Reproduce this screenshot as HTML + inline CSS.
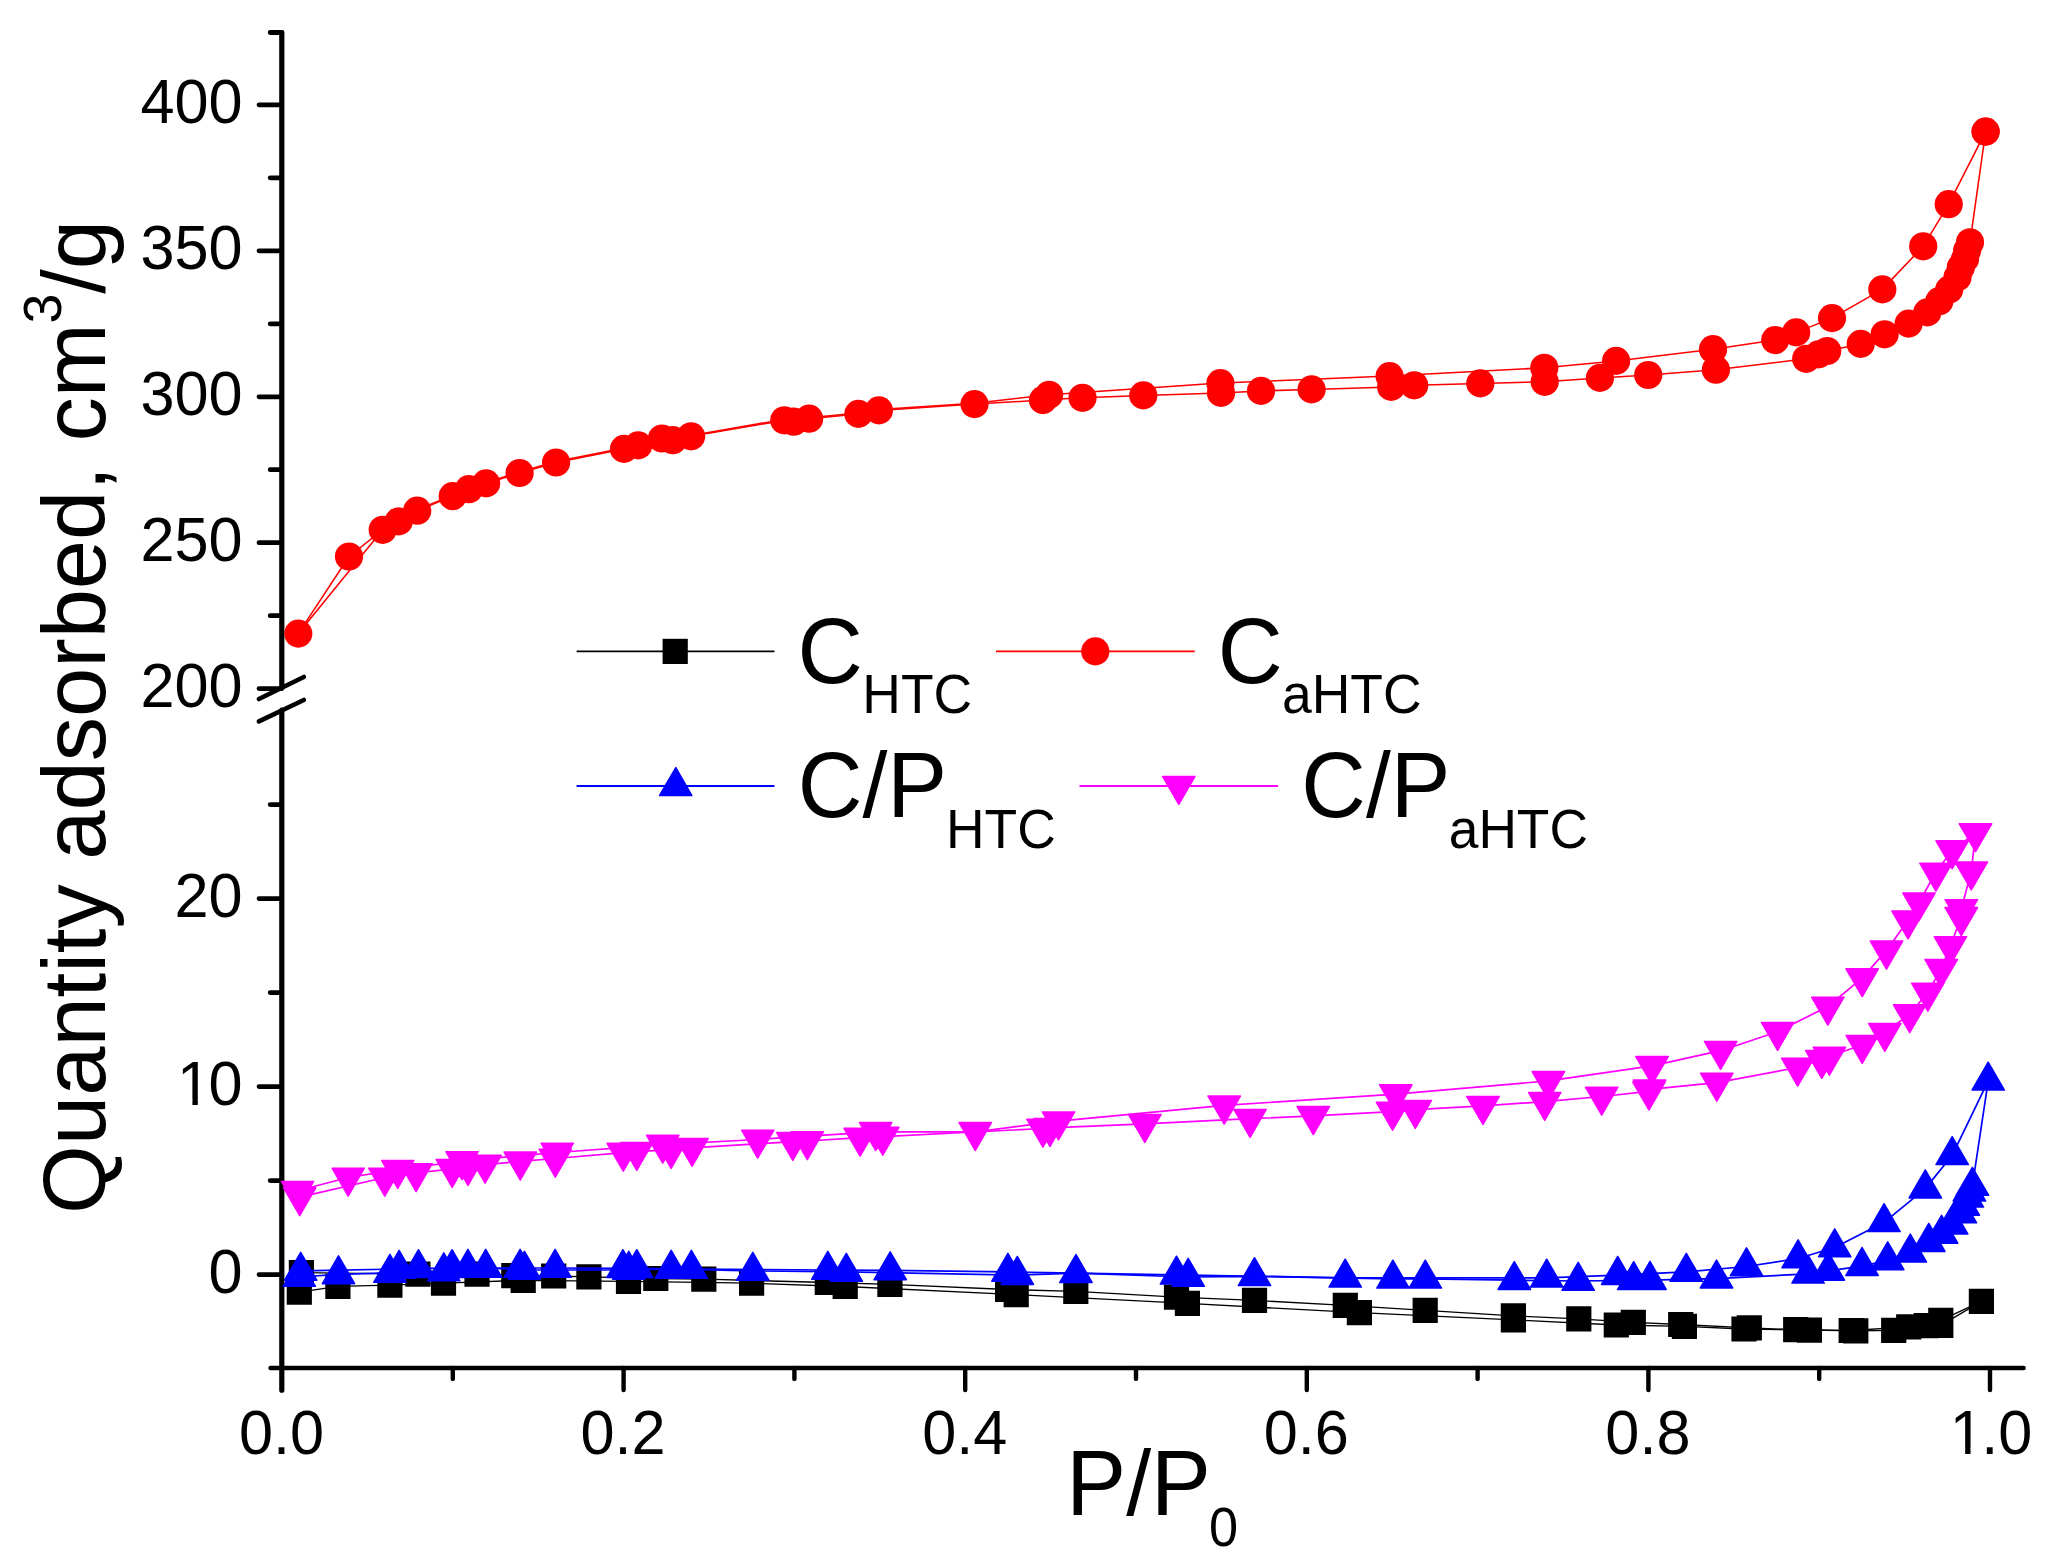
<!DOCTYPE html><html><head><meta charset="utf-8"><title>N2 adsorption isotherms</title>
<style>html,body{margin:0;padding:0;background:#fff}svg{display:block}text{font-family:"Liberation Sans",sans-serif;fill:#000}</style></head><body>
<svg width="2051" height="1568" viewBox="0 0 2051 1568">
<rect width="2051" height="1568" fill="#fff"/>
<g stroke="#000" stroke-linecap="round" fill="none">
<path stroke-width="5.2" d="M281.8 32.5V687.8M281.8 710.2V1390.2"/>
<path stroke-width="4.6" d="M270.6 1368H2023.6"/>
<path stroke-width="4.6" d="M258.9 699L303.8 677M258.9 721.4L303.8 700"/>
<path stroke-width="4.8" d="M259 688.6H281.8M259 542.7H281.8M259 396.8H281.8M259 250.8H281.8M259 104.8H281.8M270.2 615.7H281.8M270.2 469.7H281.8M270.2 323.8H281.8M270.2 177.8H281.8M270.2 32.5H281.8M259 1274.6H281.8M259 1086.6H281.8M259 898.6H281.8M270.2 1180.6H281.8M270.2 992.6H281.8M270.2 804.6H281.8"/>
<path stroke-width="4.4" d="M452.8 1368V1378.9M623.6 1368V1390M794.4 1368V1378.9M965.2 1368V1390M1136 1368V1378.9M1306.8 1368V1390M1477.6 1368V1378.9M1648.4 1368V1390M1819.2 1368V1378.9M1990 1368V1390"/>
</g>
<polyline fill="none" stroke="#000" stroke-width="1.35" stroke-linejoin="round" points="299.3,1292.1 337.9,1286.3 389.9,1285.1 443.5,1283.2 523.2,1280.3 628.5,1281.4 751.6,1283.2 845.2,1286.5 1016.2,1294.6 1187.4,1303.4 1359.4,1312.7 1513.4,1319.9 1616.3,1325 1684.4,1326.4 1744,1329 1809.4,1330.2 1855.8,1330.9 1893.7,1330.3 1926.3,1325.7 1940.8,1325.3 1981.4,1301.4"/>
<polyline fill="none" stroke="#000" stroke-width="1.35" stroke-linejoin="round" points="1981.4,1301.4 1940.8,1320.4 1908.7,1326.8 1851.2,1330.5 1795.7,1329.7 1749.3,1327.8 1680.7,1324.5 1633.3,1322.4 1578.8,1318.9 1513.4,1315.8 1425.2,1310.4 1345.3,1305.3 1254.5,1300.4 1176.5,1297.1 1075.8,1291.4 1007.6,1289.5 889.9,1284.4 827.3,1282.5 703.8,1279.1 655.8,1278.5 588.9,1276.8 553.7,1276 513.8,1275.6 477,1274.1 417.9,1274.1 301.4,1272.7"/>
<path d="M286.7 1279.5h25.2v25.2h-25.2ZM325.3 1273.7h25.2v25.2h-25.2ZM377.3 1272.5h25.2v25.2h-25.2ZM430.9 1270.6h25.2v25.2h-25.2ZM510.6 1267.7h25.2v25.2h-25.2ZM615.9 1268.8h25.2v25.2h-25.2ZM739 1270.6h25.2v25.2h-25.2ZM832.6 1273.9h25.2v25.2h-25.2ZM1003.6 1282h25.2v25.2h-25.2ZM1174.8 1290.8h25.2v25.2h-25.2ZM1346.8 1300.1h25.2v25.2h-25.2ZM1500.8 1307.3h25.2v25.2h-25.2ZM1603.7 1312.4h25.2v25.2h-25.2ZM1671.8 1313.8h25.2v25.2h-25.2ZM1731.4 1316.4h25.2v25.2h-25.2ZM1796.8 1317.6h25.2v25.2h-25.2ZM1843.2 1318.3h25.2v25.2h-25.2ZM1881.1 1317.7h25.2v25.2h-25.2ZM1913.7 1313.1h25.2v25.2h-25.2ZM1928.2 1312.7h25.2v25.2h-25.2ZM1968.8 1288.8h25.2v25.2h-25.2ZM1968.8 1288.8h25.2v25.2h-25.2ZM1928.2 1307.8h25.2v25.2h-25.2ZM1896.1 1314.2h25.2v25.2h-25.2ZM1838.6 1317.9h25.2v25.2h-25.2ZM1783.1 1317.1h25.2v25.2h-25.2ZM1736.7 1315.2h25.2v25.2h-25.2ZM1668.1 1311.9h25.2v25.2h-25.2ZM1620.7 1309.8h25.2v25.2h-25.2ZM1566.2 1306.3h25.2v25.2h-25.2ZM1500.8 1303.2h25.2v25.2h-25.2ZM1412.6 1297.8h25.2v25.2h-25.2ZM1332.7 1292.7h25.2v25.2h-25.2ZM1241.9 1287.8h25.2v25.2h-25.2ZM1163.9 1284.5h25.2v25.2h-25.2ZM1063.2 1278.8h25.2v25.2h-25.2ZM995 1276.9h25.2v25.2h-25.2ZM877.3 1271.8h25.2v25.2h-25.2ZM814.7 1269.9h25.2v25.2h-25.2ZM691.2 1266.5h25.2v25.2h-25.2ZM643.2 1265.9h25.2v25.2h-25.2ZM576.3 1264.2h25.2v25.2h-25.2ZM541.1 1263.4h25.2v25.2h-25.2ZM501.2 1263h25.2v25.2h-25.2ZM464.4 1261.5h25.2v25.2h-25.2ZM405.3 1261.5h25.2v25.2h-25.2ZM288.8 1260.1h25.2v25.2h-25.2Z" fill="#000"/>
<polyline fill="none" stroke="#f00" stroke-width="1.55" stroke-linejoin="round" points="298.3,633.6 349,556.5 382.7,529.8 398.7,521.4 417.2,510.7 452.7,496.1 468.9,489.2 486.1,483.4 519.6,473 556.1,462.5 624,448.9 638.2,445.4 662,438.5 691.1,436.3 784.3,420.3 809.1,418.7 858.4,413.9 878.9,410.4 974.5,404.1 1042.9,400.1 1082.5,397.8 1143.3,395.4 1221,392.9 1261,390.9 1311.6,389.4 1391.2,386.9 1414.2,385.3 1480.3,383.4 1544.7,381.8 1599.9,377.9 1648.2,375 1715.9,369.7 1806.2,358.8 1818.6,354.4 1827.2,351 1860.7,343.9 1884.6,334.3 1908.6,323.6 1927.3,312.4 1939.3,301.2 1949.2,289.6 1957.5,277.2 1960.8,267.2 1965,258.9 1967.1,250.6 1970,242.3 1985.6,131.6"/>
<polyline fill="none" stroke="#f00" stroke-width="1.55" stroke-linejoin="round" points="1985.6,131.6 1948.7,204.2 1923.2,246.3 1882.3,289.4 1832,318.1 1796.2,332.4 1775.2,340.1 1713,349.2 1616.1,360.9 1544.3,367.8 1389.6,376.1 1220.4,383.1 1049.1,394.8 974.5,403.2 878.9,409.5 858.4,413 809.1,417.8 793.7,420.8 784.3,419.4 691.1,435.4 672.8,439.3 662,437.6 638.2,444.5 624,448 556.1,461.6 519.6,472.1 486.1,482.5 468.9,488.3 452.7,495.2 417.2,509.8 398.7,520.5 382.7,528.9 382.7,529.8 298.3,633.6"/>
<g fill="#f00"><circle cx="298.3" cy="633.6" r="14.1"/><circle cx="349" cy="556.5" r="14.1"/><circle cx="382.7" cy="529.8" r="14.1"/><circle cx="398.7" cy="521.4" r="14.1"/><circle cx="417.2" cy="510.7" r="14.1"/><circle cx="452.7" cy="496.1" r="14.1"/><circle cx="468.9" cy="489.2" r="14.1"/><circle cx="486.1" cy="483.4" r="14.1"/><circle cx="519.6" cy="473" r="14.1"/><circle cx="556.1" cy="462.5" r="14.1"/><circle cx="624" cy="448.9" r="14.1"/><circle cx="638.2" cy="445.4" r="14.1"/><circle cx="662" cy="438.5" r="14.1"/><circle cx="691.1" cy="436.3" r="14.1"/><circle cx="784.3" cy="420.3" r="14.1"/><circle cx="809.1" cy="418.7" r="14.1"/><circle cx="858.4" cy="413.9" r="14.1"/><circle cx="878.9" cy="410.4" r="14.1"/><circle cx="974.5" cy="404.1" r="14.1"/><circle cx="1042.9" cy="400.1" r="14.1"/><circle cx="1082.5" cy="397.8" r="14.1"/><circle cx="1143.3" cy="395.4" r="14.1"/><circle cx="1221" cy="392.9" r="14.1"/><circle cx="1261" cy="390.9" r="14.1"/><circle cx="1311.6" cy="389.4" r="14.1"/><circle cx="1391.2" cy="386.9" r="14.1"/><circle cx="1414.2" cy="385.3" r="14.1"/><circle cx="1480.3" cy="383.4" r="14.1"/><circle cx="1544.7" cy="381.8" r="14.1"/><circle cx="1599.9" cy="377.9" r="14.1"/><circle cx="1648.2" cy="375" r="14.1"/><circle cx="1715.9" cy="369.7" r="14.1"/><circle cx="1806.2" cy="358.8" r="14.1"/><circle cx="1818.6" cy="354.4" r="14.1"/><circle cx="1827.2" cy="351" r="14.1"/><circle cx="1860.7" cy="343.9" r="14.1"/><circle cx="1884.6" cy="334.3" r="14.1"/><circle cx="1908.6" cy="323.6" r="14.1"/><circle cx="1927.3" cy="312.4" r="14.1"/><circle cx="1939.3" cy="301.2" r="14.1"/><circle cx="1949.2" cy="289.6" r="14.1"/><circle cx="1957.5" cy="277.2" r="14.1"/><circle cx="1960.8" cy="267.2" r="14.1"/><circle cx="1965" cy="258.9" r="14.1"/><circle cx="1967.1" cy="250.6" r="14.1"/><circle cx="1970" cy="242.3" r="14.1"/><circle cx="1985.6" cy="131.6" r="14.1"/><circle cx="1985.6" cy="131.6" r="14.1"/><circle cx="1948.7" cy="204.2" r="14.1"/><circle cx="1923.2" cy="246.3" r="14.1"/><circle cx="1882.3" cy="289.4" r="14.1"/><circle cx="1832" cy="318.1" r="14.1"/><circle cx="1796.2" cy="332.4" r="14.1"/><circle cx="1775.2" cy="340.1" r="14.1"/><circle cx="1713" cy="349.2" r="14.1"/><circle cx="1616.1" cy="360.9" r="14.1"/><circle cx="1544.3" cy="367.8" r="14.1"/><circle cx="1389.6" cy="376.1" r="14.1"/><circle cx="1220.4" cy="383.1" r="14.1"/><circle cx="1049.1" cy="394.8" r="14.1"/><circle cx="793.7" cy="421.7" r="14.1"/><circle cx="672.8" cy="440.2" r="14.1"/></g>
<polyline fill="none" stroke="#00f" stroke-width="1.7" stroke-linejoin="round" points="299.3,1277 338.5,1274.4 389.9,1272.9 443.8,1271.5 485.7,1268 524.5,1270 628.8,1270 671.2,1269 752.8,1270.9 846.3,1271.9 1017.3,1275.1 1075.9,1273.1 1188.2,1277 1254.5,1276.3 1392.9,1278.8 1425.3,1278.8 1514.3,1280.2 1578.2,1281 1633.7,1280.3 1650,1280.1 1716.5,1278.7 1808.1,1273.8 1828.3,1270.9 1862.1,1266.1 1887.7,1260.4 1910.3,1252.7 1928.8,1242.1 1941.6,1233.9 1951.6,1224.7 1960.4,1213.5 1963.3,1205.9 1967.3,1197.8 1969.4,1191.7 1972.4,1185.9 1988.2,1080.8"/>
<polyline fill="none" stroke="#00f" stroke-width="1.7" stroke-linejoin="round" points="1988.2,1080.8 1952.2,1155.3 1925.3,1188.6 1884.1,1222.3 1834.7,1247.5 1798.1,1258.5 1746.5,1266.5 1686.3,1271.9 1617.7,1275.1 1546.7,1277.8 1345.2,1277.8 1176.5,1274.8 1007.9,1271.9 890.2,1270.4 827.8,1270 691.4,1269 636.8,1268.3 622.9,1268.3 555.1,1268 520.1,1268 467.9,1268 452.1,1268.3 418.5,1268.3 399.1,1269 300.7,1270.9"/>
<path d="M299.3 1258.4L315.4 1286.3L283.2 1286.3ZM338.5 1255.8L354.6 1283.7L322.4 1283.7ZM389.9 1254.3L406 1282.2L373.8 1282.2ZM443.8 1252.9L459.9 1280.8L427.7 1280.8ZM485.7 1249.4L501.8 1277.3L469.6 1277.3ZM524.5 1251.4L540.6 1279.3L508.4 1279.3ZM628.8 1251.4L644.9 1279.3L612.6 1279.3ZM671.2 1250.4L687.4 1278.3L655.1 1278.3ZM752.8 1252.3L768.9 1280.2L736.6 1280.2ZM846.3 1253.3L862.4 1281.2L830.1 1281.2ZM1017.3 1256.5L1033.5 1284.4L1001.1 1284.4ZM1075.9 1254.5L1092.1 1282.4L1059.8 1282.4ZM1188.2 1258.4L1204.4 1286.3L1172 1286.3ZM1254.5 1257.7L1270.7 1285.6L1238.3 1285.6ZM1392.9 1260.2L1409.1 1288.1L1376.8 1288.1ZM1425.3 1260.2L1441.5 1288.1L1409.1 1288.1ZM1514.3 1261.6L1530.5 1289.5L1498.1 1289.5ZM1578.2 1262.4L1594.4 1290.3L1562 1290.3ZM1633.7 1261.7L1649.9 1289.6L1617.5 1289.6ZM1650 1261.5L1666.2 1289.4L1633.8 1289.4ZM1716.5 1260.1L1732.7 1288L1700.3 1288ZM1808.1 1255.2L1824.2 1283.1L1791.9 1283.1ZM1828.3 1252.3L1844.5 1280.2L1812.1 1280.2ZM1862.1 1247.5L1878.2 1275.4L1845.9 1275.4ZM1887.7 1241.8L1903.9 1269.7L1871.5 1269.7ZM1910.3 1234.1L1926.5 1262L1894.1 1262ZM1928.8 1223.5L1945 1251.4L1912.6 1251.4ZM1941.6 1215.3L1957.8 1243.2L1925.4 1243.2ZM1951.6 1206.1L1967.8 1234L1935.4 1234ZM1960.4 1194.9L1976.6 1222.8L1944.2 1222.8ZM1963.3 1187.3L1979.5 1215.2L1947.1 1215.2ZM1967.3 1179.2L1983.5 1207.1L1951.1 1207.1ZM1969.4 1173.1L1985.6 1201L1953.2 1201ZM1972.4 1167.3L1988.6 1195.2L1956.2 1195.2ZM1988.2 1062.2L2004.4 1090.1L1972 1090.1ZM1988.2 1062.2L2004.4 1090.1L1972 1090.1ZM1952.2 1136.7L1968.4 1164.6L1936 1164.6ZM1925.3 1170L1941.5 1197.9L1909.1 1197.9ZM1884.1 1203.7L1900.2 1231.6L1867.9 1231.6ZM1834.7 1228.9L1850.9 1256.8L1818.5 1256.8ZM1798.1 1239.9L1814.2 1267.8L1781.9 1267.8ZM1746.5 1247.9L1762.7 1275.8L1730.3 1275.8ZM1686.3 1253.3L1702.5 1281.2L1670.1 1281.2ZM1617.7 1256.5L1633.9 1284.4L1601.5 1284.4ZM1546.7 1259.2L1562.9 1287.1L1530.5 1287.1ZM1345.2 1259.2L1361.4 1287.1L1329 1287.1ZM1176.5 1256.2L1192.7 1284.1L1160.3 1284.1ZM1007.9 1253.3L1024 1281.2L991.8 1281.2ZM890.2 1251.8L906.4 1279.7L874.1 1279.7ZM827.8 1251.4L843.9 1279.3L811.6 1279.3ZM691.4 1250.4L707.5 1278.3L675.2 1278.3ZM636.8 1249.7L652.9 1277.6L620.6 1277.6ZM622.9 1249.7L639 1277.6L606.8 1277.6ZM555.1 1249.4L571.2 1277.3L539 1277.3ZM520.1 1249.4L536.2 1277.3L504 1277.3ZM467.9 1249.4L484 1277.3L451.8 1277.3ZM452.1 1249.7L468.2 1277.6L436 1277.6ZM418.5 1249.7L434.6 1277.6L402.4 1277.6ZM399.1 1250.4L415.2 1278.3L383 1278.3ZM300.7 1252.3L316.8 1280.2L284.6 1280.2Z" fill="#00f" stroke="#00f" stroke-width="1.5" stroke-linejoin="round"/>
<polyline fill="none" stroke="#f0f" stroke-width="1.7" stroke-linejoin="round" points="299.7,1197.1 384.8,1177.5 416.1,1173 452.2,1168.8 468,1166.8 485.1,1164.6 520.2,1161.4 555.3,1158.5 623.3,1152.6 636.8,1151.7 671.1,1149.7 692.1,1147.8 792.8,1141.7 807.3,1141 860.1,1137.6 882.8,1136.6 1042.9,1128.5 1050,1127.8 1144.8,1123.8 1250.1,1118.7 1313.3,1115.9 1392.6,1111.6 1415.3,1109.7 1483,1105.8 1544.7,1101.7 1601.7,1096.5 1648.9,1091.4 1649.6,1089.4 1716.8,1082.6 1797.7,1067.5 1821.8,1059.8 1829.4,1056.5 1862.2,1044.7 1884.8,1032.7 1909.7,1014.1 1927.8,992.5 1941.2,968.8 1950.4,946 1961.3,916.9 1961.3,909 1971.3,871.3 1975.5,833.1"/>
<polyline fill="none" stroke="#f0f" stroke-width="1.7" stroke-linejoin="round" points="1975.5,833.1 1952.2,850.1 1935.9,872.5 1918.9,902.3 1908.1,920.3 1886.5,950.4 1862.2,978.1 1827.8,1006.5 1777.6,1031.7 1720.6,1050.7 1652,1065.8 1548.4,1080.9 1395.8,1094.1 1224.2,1105.4 1058.5,1121.2 975.2,1131.9 875.6,1131.9 757.7,1139.5 662.7,1144.6 557.2,1152.5 462,1161 397.7,1169.7 348.2,1177.5 297.5,1190.7"/>
<path d="M299.7 1215.7L315.8 1187.8L283.6 1187.8ZM384.8 1196.1L400.9 1168.2L368.7 1168.2ZM416.1 1191.6L432.2 1163.7L400 1163.7ZM452.2 1187.4L468.3 1159.5L436.1 1159.5ZM468 1185.4L484.1 1157.5L451.9 1157.5ZM485.1 1183.2L501.2 1155.3L469 1155.3ZM520.2 1180L536.4 1152.1L504.1 1152.1ZM555.3 1177.1L571.4 1149.2L539.1 1149.2ZM623.3 1171.2L639.4 1143.3L607.1 1143.3ZM636.8 1170.3L652.9 1142.4L620.6 1142.4ZM671.1 1168.3L687.2 1140.4L655 1140.4ZM692.1 1166.4L708.2 1138.5L676 1138.5ZM792.8 1160.3L808.9 1132.4L776.6 1132.4ZM807.3 1159.6L823.4 1131.7L791.1 1131.7ZM860.1 1156.2L876.2 1128.3L844 1128.3ZM882.8 1155.2L898.9 1127.3L866.6 1127.3ZM1042.9 1147.1L1059.1 1119.2L1026.8 1119.2ZM1050 1146.4L1066.2 1118.5L1033.8 1118.5ZM1144.8 1142.4L1161 1114.5L1128.6 1114.5ZM1250.1 1137.3L1266.2 1109.4L1233.9 1109.4ZM1313.3 1134.5L1329.5 1106.6L1297.1 1106.6ZM1392.6 1130.2L1408.8 1102.3L1376.4 1102.3ZM1415.3 1128.3L1431.5 1100.4L1399.1 1100.4ZM1483 1124.4L1499.2 1096.5L1466.8 1096.5ZM1544.7 1120.3L1560.9 1092.4L1528.5 1092.4ZM1601.7 1115.1L1617.9 1087.2L1585.5 1087.2ZM1648.9 1110L1665.1 1082.1L1632.8 1082.1ZM1649.6 1108L1665.8 1080.1L1633.4 1080.1ZM1716.8 1101.2L1733 1073.3L1700.6 1073.3ZM1797.7 1086.1L1813.9 1058.2L1781.5 1058.2ZM1821.8 1078.4L1838 1050.5L1805.6 1050.5ZM1829.4 1075.1L1845.6 1047.2L1813.2 1047.2ZM1862.2 1063.3L1878.4 1035.4L1846 1035.4ZM1884.8 1051.3L1901 1023.4L1868.6 1023.4ZM1909.7 1032.7L1925.9 1004.8L1893.5 1004.8ZM1927.8 1011.1L1944 983.2L1911.6 983.2ZM1941.2 987.4L1957.4 959.5L1925 959.5ZM1950.4 964.6L1966.6 936.7L1934.2 936.7ZM1961.3 935.5L1977.5 907.6L1945.1 907.6ZM1961.3 927.6L1977.5 899.7L1945.1 899.7ZM1971.3 889.9L1987.5 862L1955.1 862ZM1975.5 851.7L1991.7 823.8L1959.3 823.8ZM1975.5 851.7L1991.7 823.8L1959.3 823.8ZM1952.2 868.7L1968.4 840.8L1936 840.8ZM1935.9 891.1L1952.1 863.2L1919.8 863.2ZM1918.9 920.9L1935.1 893L1902.8 893ZM1908.1 938.9L1924.2 911L1891.9 911ZM1886.5 969L1902.7 941.1L1870.3 941.1ZM1862.2 996.7L1878.4 968.8L1846 968.8ZM1827.8 1025.1L1844 997.2L1811.6 997.2ZM1777.6 1050.3L1793.8 1022.4L1761.4 1022.4ZM1720.6 1069.3L1736.8 1041.4L1704.4 1041.4ZM1652 1084.4L1668.2 1056.5L1635.8 1056.5ZM1548.4 1099.5L1564.6 1071.6L1532.2 1071.6ZM1395.8 1112.7L1412 1084.8L1379.6 1084.8ZM1224.2 1124L1240.4 1096.1L1208 1096.1ZM1058.5 1139.8L1074.7 1111.9L1042.3 1111.9ZM975.2 1150.5L991.4 1122.6L959.1 1122.6ZM875.6 1150.5L891.8 1122.6L859.5 1122.6ZM757.7 1158.1L773.9 1130.2L741.6 1130.2ZM662.7 1163.2L678.9 1135.3L646.6 1135.3ZM557.2 1171.1L573.4 1143.2L541.1 1143.2ZM462 1179.6L478.1 1151.7L445.9 1151.7ZM397.7 1188.3L413.8 1160.4L381.6 1160.4ZM348.2 1196.1L364.3 1168.2L332.1 1168.2ZM297.5 1209.3L313.6 1181.4L281.4 1181.4Z" fill="#f0f" stroke="#f0f" stroke-width="1.5" stroke-linejoin="round"/>
<text transform="translate(242.6 706.9) scale(1 1.04)" font-size="61.2" text-anchor="end">200</text>
<text transform="translate(242.6 561) scale(1 1.04)" font-size="61.2" text-anchor="end">250</text>
<text transform="translate(242.6 415.1) scale(1 1.04)" font-size="61.2" text-anchor="end">300</text>
<text transform="translate(242.6 269.1) scale(1 1.04)" font-size="61.2" text-anchor="end">350</text>
<text transform="translate(242.6 123.1) scale(1 1.04)" font-size="61.2" text-anchor="end">400</text>
<text transform="translate(242.6 1292.9) scale(1 1.04)" font-size="61.2" text-anchor="end">0</text>
<text transform="translate(242.6 916.9) scale(1 1.04)" font-size="61.2" text-anchor="end">20</text>
<text transform="translate(174.53 1104.90) scale(1 1.04)" font-size="61.2"><tspan dx="2.5">1</tspan><tspan dx="-2.5">0</tspan></text><rect x="180.19" y="1099.45" width="12.23" height="6.15" fill="#fff"/><rect x="197.83" y="1099.45" width="11.75" height="6.15" fill="#fff"/>
<text transform="translate(281.5 1453.6) scale(1 1.04)" font-size="61.2" text-anchor="middle">0.0</text>
<text transform="translate(623.1 1453.6) scale(1 1.04)" font-size="61.2" text-anchor="middle">0.2</text>
<text transform="translate(964.7 1453.6) scale(1 1.04)" font-size="61.2" text-anchor="middle">0.4</text>
<text transform="translate(1306.3 1453.6) scale(1 1.04)" font-size="61.2" text-anchor="middle">0.6</text>
<text transform="translate(1647.9 1453.6) scale(1 1.04)" font-size="61.2" text-anchor="middle">0.8</text>
<text transform="translate(1947.26 1453.60) scale(1 1.04)" font-size="61.2"><tspan dx="2.5">1</tspan><tspan dx="-2.5">.0</tspan></text><rect x="1952.92" y="1448.15" width="12.23" height="6.15" fill="#fff"/><rect x="1970.56" y="1448.15" width="11.75" height="6.15" fill="#fff"/>
<text transform="translate(1066.34 1514.85) scale(1 1.0356)" font-size="89.71">P/P</text>
<text transform="translate(1208.96 1546.20) scale(1 1.0670)" font-size="52.30">0</text>
<text transform="translate(104.7 1213.9) rotate(-90)" font-size="88.5">Quantity adsorbed, cm<tspan font-size="53.5" dy="-43.7">3</tspan><tspan dy="43.7">/g</tspan></text>
<path d="M576.6 651.4H774.5" stroke="#000" stroke-width="1.6"/>
<path d="M662.6 638.8h25.2v25.2h-25.2Z" fill="#000"/>
<text transform="translate(797.61 682.80) scale(1 1.0279)" font-size="90.48">C</text>
<text transform="translate(862.32 713.30) scale(1 1.0368)" font-size="53.44">HTC</text>
<path d="M996 651.4H1194.8" stroke="#f00" stroke-width="1.8"/>
<g fill="#f00"><circle cx="1095.3" cy="651.4" r="14.1"/></g>
<text transform="translate(1217.83 682.80) scale(1 1.0333)" font-size="90.00">C</text>
<text transform="translate(1282.03 713.30) scale(1 1.0362)" font-size="53.46">aHTC</text>
<path d="M576.6 786H774.5" stroke="#00f" stroke-width="1.8"/>
<path d="M675.8 767.6L691.9 795.5L659.6 795.5Z" fill="#00f" stroke="#00f" stroke-width="1.5" stroke-linejoin="round"/>
<text transform="translate(797.65 816.80) scale(1 1.0371)" font-size="89.67">C/P</text>
<text transform="translate(945.92 847.70) scale(1 1.0330)" font-size="53.44">HTC</text>
<path d="M1079.5 786H1278.1" stroke="#f0f" stroke-width="1.9"/>
<path d="M1178.8 804.3L1195 776.4L1162.6 776.4Z" fill="#f0f" stroke="#f0f" stroke-width="1.5" stroke-linejoin="round"/>
<text transform="translate(1301.36 816.80) scale(1 1.0408)" font-size="89.35">C/P</text>
<text transform="translate(1448.74 847.80) scale(1 1.0356)" font-size="53.30">aHTC</text>
</svg></body></html>
